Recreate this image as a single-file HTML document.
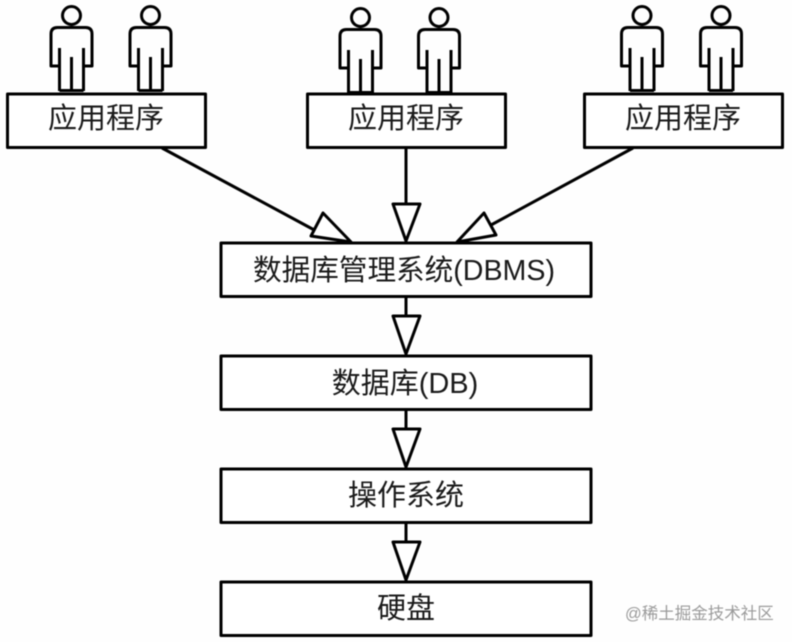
<!DOCTYPE html>
<html>
<head>
<meta charset="utf-8">
<style>
html,body{margin:0;padding:0;background:#fefefe;}
svg{display:block;}
text{font-family:"Liberation Sans","Noto Sans CJK SC",sans-serif;fill:#1a1a1a;}
#all{filter:blur(0.45px);}
</style>
</head>
<body>
<svg width="792" height="642" viewBox="0 0 792 642" xmlns="http://www.w3.org/2000/svg">
<defs>
<g id="p" fill="none" stroke="#000" stroke-width="3">
<circle cx="0" cy="15.5" r="9"/>
<path d="M-12 91V48M-12 66H-20.500V34Q-20.500 27.500 -14 27.500H14Q20.500 27.500 20.500 34V66H12M12 48V91M0 57V91M-12 90.500H12" stroke-linejoin="round"/>
</g>
</defs>
<g id="all">
<use href="#p" x="71.500" y="0"/>
<use href="#p" x="150.500" y="0"/>
<use href="#p" x="360.500" y="2"/>
<use href="#p" x="439" y="2"/>
<use href="#p" x="642" y="0"/>
<use href="#p" x="721" y="0"/>
<g fill="#fff" stroke="#000" stroke-width="3" stroke-linejoin="round">
<rect x="7.500" y="94" width="198" height="53.500"/>
<rect x="307.500" y="94" width="198" height="53.500"/>
<rect x="584.500" y="94" width="198" height="53.500"/>
<rect x="221" y="243" width="370" height="53.500"/>
<rect x="221" y="356" width="370" height="53.500"/>
<rect x="221" y="469" width="370" height="53.500"/>
<rect x="221" y="582" width="370" height="53.500"/>
<path d="M162 148L318 232M406 148V204M633 148L491 225M406 297V316M406 410V429M406 523V542" fill="none"/>
<path d="M323 213L351 242L311 236Z"/>
<path d="M393 204H420L406 241Z"/>
<path d="M484 213L457 242L496 235Z"/>
<path d="M393 316H420L406 354Z"/>
<path d="M393 429H420L406 467Z"/>
<path d="M393 542H420L406 580Z"/>
</g>
<g font-size="29" text-anchor="middle">
<text x="106" y="128">应用程序</text>
<text x="406" y="128">应用程序</text>
<text x="683" y="128">应用程序</text>
<text x="404" y="280" textLength="302" lengthAdjust="spacingAndGlyphs">数据库管理系统(DBMS)</text>
<text x="405" y="393">数据库(DB)</text>
<text x="406" y="505">操作系统</text>
<text x="406" y="618">硬盘</text>
</g>
<text x="625" y="619" font-size="16.500" style="fill:#9a9a9a">@稀土掘金技术社区</text>
</g>
</svg>
</body>
</html>
